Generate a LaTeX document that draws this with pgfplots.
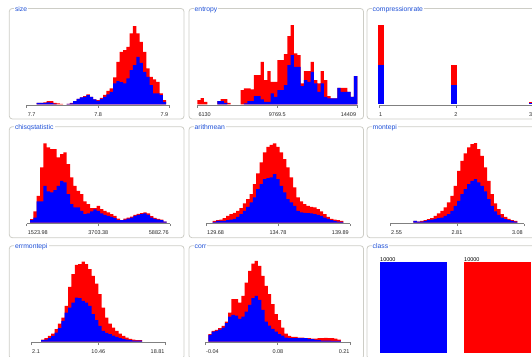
\documentclass[border=0pt]{standalone}
\usepackage{fontspec}
\setmainfont{Liberation Sans}
\usepackage{pgfplots}
\pgfplotsset{compat=1.18}
\definecolor{framegray}{RGB}{205,205,198}
\definecolor{axisgray}{RGB}{128,128,128}
\definecolor{titleblue}{RGB}{30,80,215}
\definecolor{wred}{RGB}{255,0,0}
\definecolor{wblue}{RGB}{0,0,255}
\pgfplotsset{
  hist/.style={
    anchor=south west, scale only axis, height=90pt, ymin=-3, ymax=267, clip=false,
    axis y line=none, axis x line*=bottom,
    axis line style={draw=axisgray, line width=0.8pt, -},
    xticklabels={},
    tick style={draw=axisgray, line width=0.8pt},
    major tick length=2.5pt, tick align=outside,
  },
  redbar/.style={const plot, fill=wred, draw=none, mark=none},
  bluebar/.style={const plot, fill=wblue, draw=none, mark=none},
}
\tikzset{
  tl/.style={font=\fontsize{5.5}{6}\selectfont, inner sep=0pt, yshift=-9pt, text=black!85},
  ttl/.style={anchor=base west, fill=white, inner xsep=1pt, inner ysep=0.6pt, text=titleblue, font=\fontsize{6.8}{7}\selectfont},
  frm/.style={draw=framegray, line width=0.8pt, rounded corners=3pt},
}
\newcommand{\histlabels}[3]{%
  \node[tl,anchor=west,xshift=1pt] at (rel axis cs:0,0) {#1};
  \node[tl] at (rel axis cs:0.5,0) {#2};
  \node[tl,anchor=east,xshift=-1pt] at (rel axis cs:1,0) {#3};}
\begin{document}
\begin{tikzpicture}
\useasboundingbox (0pt,0pt) rectangle (532pt,356pt);
\clip (0pt,0pt) rectangle (532pt,356pt);
% frames
\draw[frm] (9.3pt,237pt) rectangle (184pt,347.5pt);
\draw[frm] (189pt,237pt) rectangle (363.5pt,347.5pt);
\draw[frm] (367pt,237pt) rectangle (545pt,347.5pt);
\draw[frm] (9.3pt,118.3pt) rectangle (184pt,229.3pt);
\draw[frm] (189pt,118.3pt) rectangle (363.5pt,229.3pt);
\draw[frm] (367pt,118.3pt) rectangle (545pt,229.3pt);
\draw[frm] (9.3pt,-3pt) rectangle (184pt,110.3pt);
\draw[frm] (189pt,-3pt) rectangle (363.5pt,110.3pt);
\draw[frm] (367pt,-3pt) rectangle (545pt,110.3pt);
% titles
\node[ttl] at (13.8pt,344.7pt) {size};
\node[ttl] at (193.5pt,344.7pt) {entropy};
\node[ttl] at (371.5pt,344.7pt) {compressionrate};
\node[ttl] at (13.8pt,226.5pt) {chisqstatistic};
\node[ttl] at (193.5pt,226.5pt) {arithmean};
\node[ttl] at (371.5pt,226.5pt) {montepi};
\node[ttl] at (13.8pt,107.5pt) {errmontepi};
\node[ttl] at (193.5pt,107.5pt) {corr};
\node[ttl] at (371.5pt,107.5pt) {class};

% size
\begin{axis}[hist, at={(26.7pt,250.5pt)}, width=142.8pt, xmin=0, xmax=43, xtick={0,21.5,43}]
\addplot[redbar] coordinates {(3,0)(3,5)(4,5)(5,6)(6,10)(7,10)(8,5)(9,3)(10,2)(11,0)};
\addplot[redbar] coordinates {(12,0)(12,2)(13,5)(14,10)(15,17)(16,21)(17,25)(18,30)(19,23)(20,15)(21,13)(22,20)(23,29)(24,41)(25,48)(26,81)(27,128)(28,158)(29,163)(30,173)(31,213)(32,235)(33,213)(34,188)(35,158)(36,108)(37,83)(38,75)(39,68)(40,33)(41,13)(42,0)};
\addplot[bluebar] coordinates {(3,0)(3,5)(4,5)(5,5)(6,6)(7,5)(8,2)(9,0)};
\addplot[bluebar] coordinates {(12,0)(12,2)(13,3)(14,10)(15,17)(16,21)(17,23)(18,28)(19,23)(20,15)(21,11)(22,17)(23,23)(24,30)(25,38)(26,63)(27,70)(28,67)(29,63)(30,78)(31,103)(32,118)(33,143)(34,125)(35,98)(36,83)(37,58)(38,33)(39,33)(40,28)(41,8)(42,0)};
\histlabels{7.7}{7.8}{7.9}
\end{axis}

% entropy
\begin{axis}[hist, at={(197.3pt,250.5pt)}, width=160pt, xmin=0, xmax=48, xtick={0,24,48}]
\addplot[redbar] coordinates {(0,0)(0,13)(1,19)(2,8)(3,0)};
\addplot[redbar] coordinates {(6,0)(6,10)(7,16)(8,16)(9,5)(10,0)};
\addplot[redbar] coordinates {(13,0)(13,43)(14,48)(15,48)(16,45)(17,88)(18,88)(19,128)(20,73)(21,100)(22,68)(23,68)(24,133)(25,133)(26,151)(27,205)(28,238)(29,153)(30,148)(31,63)(32,100)(33,100)(34,128)(35,73)(36,63)(37,100)(38,73)(39,25)(40,18)(41,18)(42,50)(43,50)(44,50)(45,38)(46,23)(47,85)(48,0)};
\addplot[bluebar] coordinates {(6,0)(6,10)(7,10)(8,5)(9,0)};
\addplot[bluebar] coordinates {(14,0)(14,3)(15,10)(16,10)(17,25)(18,25)(19,15)(20,8)(21,8)(22,33)(23,23)(24,43)(25,43)(26,58)(27,118)(28,148)(29,113)(30,113)(31,55)(32,73)(33,68)(34,98)(35,63)(36,38)(37,63)(38,23)(39,18)(40,18)(41,18)(42,50)(43,38)(44,38)(45,38)(46,23)(47,85)(48,0)};
\histlabels{6130}{9769.5}{14409}
\end{axis}

% compressionrate
\begin{axis}[hist, at={(379pt,250.5pt)}, width=154pt, xmin=1, xmax=3, xtick={1,2,3}]
\addplot[fill=wred, draw=none, mark=none] coordinates {(0.99,0)(0.99,237)(1.06,237)(1.06,0)};
\addplot[fill=wred, draw=none, mark=none] coordinates {(1.935,0)(1.935,117)(2.009,117)(2.009,0)};
\addplot[fill=wred, draw=none, mark=none] coordinates {(2.948,0)(2.948,6)(3.0,6)(3.0,0)};
\addplot[fill=wblue, draw=none, mark=none] coordinates {(0.99,0)(0.99,119)(1.06,119)(1.06,0)};
\addplot[fill=wblue, draw=none, mark=none] coordinates {(1.935,0)(1.935,57)(2.009,57)(2.009,0)};
\addplot[fill=wblue, draw=none, mark=none] coordinates {(2.948,0)(2.948,3)(3.0,3)(3.0,0)};
\node[tl,anchor=west] at (rel axis cs:0,0) {1};
\node[tl] at (rel axis cs:0.5,0) {2};
\node[tl,anchor=east,xshift=-0.5pt] at (rel axis cs:1,0) {3};
\end{axis}

% chisqstatistic
\begin{axis}[hist, at={(26.7pt,132.5pt)}, width=143.3pt, xmin=0, xmax=43, xtick={0,21.5,43}]
\addplot[redbar] coordinates {(1,0)(1,10)(2,33)(3,80)(4,165)(5,237)(6,225)(7,220)(8,220)(9,195)(10,205)(11,210)(12,175)(13,135)(14,110)(15,95)(16,85)(17,63)(18,55)(19,43)(20,43)(21,50)(22,40)(23,35)(24,30)(25,25)(26,20)(27,12)(28,7)(29,12)(30,15)(31,18)(32,23)(33,26)(34,28)(35,30)(36,27)(37,19)(38,14)(39,11)(40,9)(41,3)(42,0)};
\addplot[bluebar] coordinates {(1,0)(1,7)(2,15)(3,63)(4,63)(5,110)(6,93)(7,90)(8,97)(9,110)(10,125)(11,120)(12,85)(13,55)(14,45)(15,45)(16,35)(17,25)(18,27)(19,33)(20,39)(21,35)(22,27)(23,23)(24,20)(25,17)(26,13)(27,7)(28,7)(29,9)(30,12)(31,15)(32,20)(33,23)(34,25)(35,27)(36,23)(37,15)(38,11)(39,9)(40,7)(41,3)(42,0)};
\histlabels{1523.98}{3703.38}{5882.76}
\end{axis}

% arithmean
\begin{axis}[hist, at={(206pt,132.5pt)}, width=144pt, xmin=0, xmax=43, xtick={0,21.5,43}]
\addplot[redbar] coordinates {(2,0)(2,5)(3,7)(4,9)(5,13)(6,20)(7,25)(8,29)(9,35)(10,43)(11,57)(12,70)(13,85)(14,115)(15,147)(16,180)(17,210)(18,227)(19,233)(20,237)(21,227)(22,210)(23,190)(24,165)(25,135)(26,105)(27,75)(28,63)(29,55)(30,50)(31,47)(32,45)(33,40)(34,33)(35,25)(36,17)(37,11)(38,9)(39,7)(40,5)(41,0)};
\addplot[bluebar] coordinates {(2,0)(2,2)(3,5)(4,5)(5,5)(6,7)(7,9)(8,11)(9,17)(10,25)(11,35)(12,47)(13,60)(14,75)(15,100)(16,115)(17,130)(18,133)(19,135)(20,145)(21,130)(22,110)(23,90)(24,70)(25,60)(26,50)(27,35)(28,30)(29,29)(30,28)(31,27)(32,25)(33,23)(34,20)(35,15)(36,11)(37,7)(38,5)(39,3)(40,2)(41,0)};
\histlabels{129.68}{134.78}{139.89}
\end{axis}

% montepi
\begin{axis}[hist, at={(390pt,132.5pt)}, width=134pt, xmin=0, xmax=40, xtick={0,20,40}]
\addplot[redbar] coordinates {(7,0)(7,5)(8,3)(9,5)(10,7)(11,10)(12,13)(13,20)(14,27)(15,35)(16,45)(17,60)(18,80)(19,110)(20,155)(21,185)(22,207)(23,225)(24,235)(25,238)(26,220)(27,200)(28,165)(29,125)(30,85)(31,57)(32,40)(33,25)(34,17)(35,11)(36,7)(37,5)(38,0)};
\addplot[bluebar] coordinates {(7,0)(7,5)(8,3)(9,3)(10,5)(11,7)(12,9)(13,11)(14,13)(15,15)(16,20)(17,25)(18,35)(19,50)(20,65)(21,85)(22,100)(23,115)(24,125)(25,130)(26,120)(27,110)(28,93)(29,70)(30,50)(31,33)(32,23)(33,15)(34,10)(35,7)(36,5)(37,3)(38,0)};
\histlabels{2.55}{2.81}{3.08}
\end{axis}

% errmontepi
\begin{axis}[hist, at={(31pt,13.5pt)}, width=134.7pt, xmin=0, xmax=40, xtick={0,20,40}]
\addplot[redbar] coordinates {(3,0)(3,6)(4,10)(5,17)(6,24)(7,37)(8,54)(9,72)(10,107)(11,164)(12,202)(13,230)(14,232)(15,240)(16,232)(17,217)(18,197)(19,174)(20,142)(21,102)(22,72)(23,54)(24,42)(25,32)(26,24)(27,17)(28,12)(29,8)(30,6)(31,4)(32,4)(33,0)};
\addplot[bluebar] coordinates {(3,0)(3,4)(4,6)(5,10)(6,17)(7,27)(8,40)(9,62)(10,87)(11,102)(12,117)(13,132)(14,130)(15,122)(16,117)(17,107)(18,82)(19,64)(20,47)(21,32)(22,26)(23,22)(24,18)(25,14)(26,10)(27,8)(28,6)(29,4)(30,3)(31,3)(32,3)(33,0)};
\histlabels{2.1}{10.46}{18.81}
\end{axis}

% corr
\begin{axis}[hist, at={(205pt,13.5pt)}, width=145.7pt, xmin=0, xmax=44, xtick={0,22,44}]
\addplot[redbar] coordinates {(1,0)(1,22)(2,32)(3,35)(4,40)(5,47)(6,60)(7,87)(8,127)(9,127)(10,117)(11,137)(12,177)(13,212)(14,234)(15,242)(16,227)(17,197)(18,167)(19,142)(20,112)(21,82)(22,64)(23,42)(24,24)(25,17)(26,14)(27,14)(28,12)(29,12)(30,10)(31,10)(32,9)(33,9)(34,10)(35,10)(36,11)(37,10)(38,10)(39,9)(40,6)(41,0)};
\addplot[bluebar] coordinates {(1,0)(1,20)(2,30)(3,32)(4,36)(5,42)(6,55)(7,75)(8,80)(9,78)(10,68)(11,75)(12,90)(13,110)(14,130)(15,137)(16,125)(17,95)(18,60)(19,48)(20,38)(21,30)(22,22)(23,18)(24,12)(25,10)(26,10)(27,10)(28,10)(29,10)(30,10)(31,8)(32,7)(33,5)(34,4)(35,3)(36,3)(37,3)(38,2)(39,2)(40,2)(41,0)};
\histlabels{-0.04}{0.08}{0.21}
\end{axis}

% class
\begin{axis}[at={(380pt,2.7pt)}, anchor=south west, scale only axis, width=152pt, height=91pt,
  xmin=0, xmax=2.2585, ymin=0, ymax=10000, hide axis, clip=false]
\addplot[fill=wblue, draw=none, mark=none] coordinates {(0,0)(0,10000)(1,10000)(1,0)};
\addplot[fill=wred, draw=none, mark=none] coordinates {(1.248,0)(1.248,10000)(2.248,10000)(2.248,0)};
\node[anchor=south west, inner sep=0pt, yshift=0.8pt, font=\fontsize{5.5}{6}\selectfont] at (axis cs:0,10000) {10000};
\node[anchor=south west, inner sep=0pt, yshift=0.8pt, font=\fontsize{5.5}{6}\selectfont] at (axis cs:1.248,10000) {10000};
\end{axis}
\end{tikzpicture}
\end{document}
